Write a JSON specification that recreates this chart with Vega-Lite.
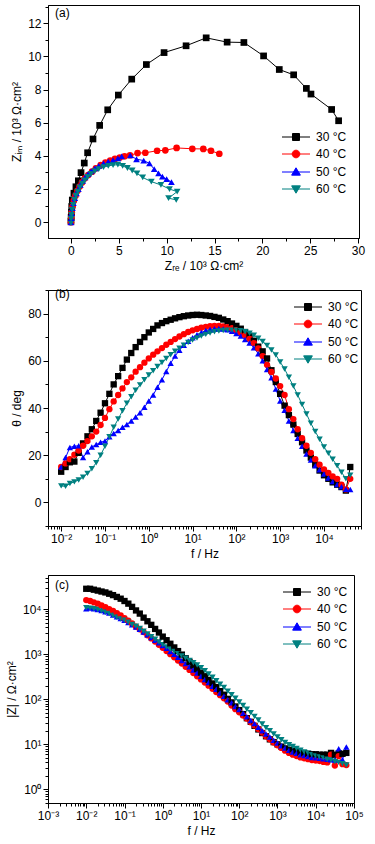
{
"$schema": "https://vega.github.io/schema/vega-lite/v6.json",
"padding": {"left": 4, "top": 0, "right": 5, "bottom": 2},
"spacing": 11,
"config": {
 "font": "Liberation Sans",
 "view": {"stroke": "black", "strokeWidth": 1},
 "axis": {"grid": false, "domainColor": "black", "tickColor": "black", "labelColor": "black", "titleColor": "black", "labelFontSize": 12, "titleFontSize": 12, "titleFontWeight": "normal", "labelFont": "Liberation Sans", "titleFont": "Liberation Sans", "labelOverlap": false, "labelFlush": false, "tickWidth": 1, "domainWidth": 1},
 "legend": {"title": null, "orient": "none", "padding": 0, "labelFontSize": 12, "labelFont": "Liberation Sans", "labelColor": "black", "symbolSize": 49, "labelOffset": 14, "rowPadding": 5},
 "title": {"fontSize": 12, "fontWeight": "normal", "font": "Liberation Sans", "color": "black", "anchor": "start", "frame": "group"}
},
"resolve": {"legend": {"color": "independent"}},
"datasets": {
 "nyq": [
  {"T":"30 °C","n":1,"re":0.0,"im":0.05},{"T":"30 °C","n":2,"re":0.02,"im":0.3},{"T":"30 °C","n":3,"re":0.05,"im":0.6},{"T":"30 °C","n":4,"re":0.08,"im":0.95},{"T":"30 °C","n":5,"re":0.14,"im":1.34},{"T":"30 °C","n":6,"re":0.31,"im":1.75},{"T":"30 °C","n":7,"re":0.52,"im":2.14},{"T":"30 °C","n":8,"re":0.77,"im":2.5},{"T":"30 °C","n":9,"re":1.05,"im":2.99},{"T":"30 °C","n":10,"re":1.39,"im":3.57},{"T":"30 °C","n":11,"re":1.74,"im":4.19},{"T":"30 °C","n":12,"re":2.3,"im":5.02},{"T":"30 °C","n":13,"re":3.0,"im":5.84},{"T":"30 °C","n":14,"re":3.84,"im":6.78},{"T":"30 °C","n":15,"re":4.95,"im":7.67},{"T":"30 °C","n":16,"re":6.35,"im":8.63},{"T":"30 °C","n":17,"re":7.88,"im":9.51},{"T":"30 °C","n":18,"re":9.73,"im":10.23},{"T":"30 °C","n":19,"re":12.03,"im":10.64},{"T":"30 °C","n":20,"re":14.13,"im":11.12},{"T":"30 °C","n":21,"re":16.32,"im":10.86},{"T":"30 °C","n":22,"re":18.07,"im":10.84},{"T":"30 °C","n":23,"re":20.13,"im":10.03},{"T":"30 °C","n":24,"re":21.77,"im":9.21},{"T":"30 °C","n":25,"re":23.27,"im":8.89},{"T":"30 °C","n":26,"re":24.6,"im":8.07},{"T":"30 °C","n":27,"re":25.08,"im":7.73},{"T":"30 °C","n":28,"re":27.24,"im":6.8},{"T":"30 °C","n":29,"re":27.97,"im":6.12},
  {"T":"40 °C","n":1,"re":0.0,"im":0.0},{"T":"40 °C","n":2,"re":0.03,"im":0.3},{"T":"40 °C","n":3,"re":0.08,"im":0.6},{"T":"40 °C","n":4,"re":0.17,"im":0.95},{"T":"40 °C","n":5,"re":0.3,"im":1.3},{"T":"40 °C","n":6,"re":0.47,"im":1.6},{"T":"40 °C","n":7,"re":0.68,"im":1.9},{"T":"40 °C","n":8,"re":0.9,"im":2.15},{"T":"40 °C","n":9,"re":1.15,"im":2.4},{"T":"40 °C","n":10,"re":1.45,"im":2.65},{"T":"40 °C","n":11,"re":1.8,"im":2.85},{"T":"40 °C","n":12,"re":2.2,"im":3.05},{"T":"40 °C","n":13,"re":2.6,"im":3.25},{"T":"40 °C","n":14,"re":3.1,"im":3.45},{"T":"40 °C","n":15,"re":3.6,"im":3.6},{"T":"40 °C","n":16,"re":4.1,"im":3.72},{"T":"40 °C","n":17,"re":4.6,"im":3.82},{"T":"40 °C","n":18,"re":5.1,"im":3.9},{"T":"40 °C","n":19,"re":5.6,"im":3.98},{"T":"40 °C","n":20,"re":6.17,"im":4.04},{"T":"40 °C","n":21,"re":6.96,"im":4.17},{"T":"40 °C","n":22,"re":7.77,"im":4.19},{"T":"40 °C","n":23,"re":9.0,"im":4.31},{"T":"40 °C","n":24,"re":9.86,"im":4.34},{"T":"40 °C","n":25,"re":11.04,"im":4.48},{"T":"40 °C","n":26,"re":12.68,"im":4.43},{"T":"40 °C","n":27,"re":13.83,"im":4.42},{"T":"40 °C","n":28,"re":14.63,"im":4.31},{"T":"40 °C","n":29,"re":15.5,"im":4.13},
  {"T":"50 °C","n":1,"re":0.0,"im":0.0},{"T":"50 °C","n":2,"re":0.03,"im":0.25},{"T":"50 °C","n":3,"re":0.07,"im":0.55},{"T":"50 °C","n":4,"re":0.15,"im":0.85},{"T":"50 °C","n":5,"re":0.25,"im":1.15},{"T":"50 °C","n":6,"re":0.4,"im":1.45},{"T":"50 °C","n":7,"re":0.57,"im":1.75},{"T":"50 °C","n":8,"re":0.77,"im":2.0},{"T":"50 °C","n":9,"re":0.98,"im":2.25},{"T":"50 °C","n":10,"re":1.22,"im":2.5},{"T":"50 °C","n":11,"re":1.48,"im":2.7},{"T":"50 °C","n":12,"re":1.78,"im":2.9},{"T":"50 °C","n":13,"re":2.1,"im":3.07},{"T":"50 °C","n":14,"re":2.5,"im":3.25},{"T":"50 °C","n":15,"re":2.9,"im":3.4},{"T":"50 °C","n":16,"re":3.4,"im":3.55},{"T":"50 °C","n":17,"re":3.9,"im":3.65},{"T":"50 °C","n":18,"re":4.4,"im":3.75},{"T":"50 °C","n":19,"re":4.9,"im":3.85},{"T":"50 °C","n":20,"re":5.3,"im":3.97},{"T":"50 °C","n":21,"re":6.2,"im":4.03},{"T":"50 °C","n":22,"re":6.85,"im":3.8},{"T":"50 °C","n":23,"re":7.6,"im":3.72},{"T":"50 °C","n":24,"re":8.2,"im":3.55},{"T":"50 °C","n":25,"re":8.7,"im":3.2},{"T":"50 °C","n":26,"re":9.15,"im":2.95},{"T":"50 °C","n":27,"re":9.55,"im":2.75},{"T":"50 °C","n":28,"re":10.0,"im":2.6},{"T":"50 °C","n":29,"re":10.5,"im":2.42},
  {"T":"60 °C","n":1,"re":0.0,"im":-0.05},{"T":"60 °C","n":2,"re":0.02,"im":0.2},{"T":"60 °C","n":3,"re":0.06,"im":0.45},{"T":"60 °C","n":4,"re":0.13,"im":0.75},{"T":"60 °C","n":5,"re":0.23,"im":1.05},{"T":"60 °C","n":6,"re":0.37,"im":1.35},{"T":"60 °C","n":7,"re":0.52,"im":1.6},{"T":"60 °C","n":8,"re":0.72,"im":1.85},{"T":"60 °C","n":9,"re":0.93,"im":2.1},{"T":"60 °C","n":10,"re":1.18,"im":2.33},{"T":"60 °C","n":11,"re":1.45,"im":2.53},{"T":"60 °C","n":12,"re":1.75,"im":2.73},{"T":"60 °C","n":13,"re":2.1,"im":2.92},{"T":"60 °C","n":14,"re":2.5,"im":3.08},{"T":"60 °C","n":15,"re":2.9,"im":3.2},{"T":"60 °C","n":16,"re":3.4,"im":3.32},{"T":"60 °C","n":17,"re":3.9,"im":3.4},{"T":"60 °C","n":18,"re":4.4,"im":3.45},{"T":"60 °C","n":19,"re":4.9,"im":3.47},{"T":"60 °C","n":20,"re":5.4,"im":3.4},{"T":"60 °C","n":21,"re":5.9,"im":3.27},{"T":"60 °C","n":22,"re":6.4,"im":3.12},{"T":"60 °C","n":23,"re":6.9,"im":2.95},{"T":"60 °C","n":24,"re":7.5,"im":2.7},{"T":"60 °C","n":25,"re":8.4,"im":2.45},{"T":"60 °C","n":26,"re":9.4,"im":2.25},{"T":"60 °C","n":27,"re":10.3,"im":2.0},{"T":"60 °C","n":28,"re":11.1,"im":1.85},{"T":"60 °C","n":29,"re":10.2,"im":1.45},{"T":"60 °C","n":30,"re":11.0,"im":1.35}
 ],
 "phase": [
  {"f":0.01,"30 °C":13,"40 °C":15,"50 °C":15,"60 °C":7},
  {"f":0.0126,"30 °C":15,"40 °C":16.5,"50 °C":19,"60 °C":6.8},
  {"f":0.0158,"30 °C":17,"40 °C":18.3,"50 °C":23.3,"60 °C":8},
  {"f":0.02,"30 °C":17.3,"40 °C":20.2,"50 °C":23.8,"60 °C":8.7},
  {"f":0.0251,"30 °C":21,"40 °C":22,"50 °C":24,"60 °C":9.5},
  {"f":0.0316,"30 °C":25,"40 °C":24,"50 °C":19,"60 °C":10.7},
  {"f":0.0398,"30 °C":28,"40 °C":26,"50 °C":21.5,"60 °C":12.3},
  {"f":0.0501,"30 °C":31,"40 °C":28,"50 °C":23.5,"60 °C":14.3},
  {"f":0.0631,"30 °C":34.5,"40 °C":30,"50 °C":24.5,"60 °C":16.8},
  {"f":0.0794,"30 °C":38,"40 °C":32.8,"50 °C":25.5,"60 °C":20},
  {"f":0.1,"30 °C":42,"40 °C":35.8,"50 °C":26,"60 °C":23.8},
  {"f":0.126,"30 °C":46,"40 °C":39.5,"50 °C":27.8,"60 °C":27.8},
  {"f":0.158,"30 °C":50,"40 °C":42.8,"50 °C":29.2,"60 °C":31.8},
  {"f":0.2,"30 °C":53.5,"40 °C":45.5,"50 °C":30.5,"60 °C":35.3},
  {"f":0.251,"30 °C":57,"40 °C":48.3,"50 °C":31.8,"60 °C":38.8},
  {"f":0.316,"30 °C":60.5,"40 °C":51,"50 °C":33,"60 °C":42},
  {"f":0.398,"30 °C":63.3,"40 °C":53,"50 °C":34.5,"60 °C":44.8},
  {"f":0.501,"30 °C":65.8,"40 °C":55.4,"50 °C":36.2,"60 °C":47.5},
  {"f":0.631,"30 °C":68,"40 °C":57.3,"50 °C":38,"60 °C":49.8},
  {"f":0.794,"30 °C":70,"40 °C":59.2,"50 °C":40.3,"60 °C":52},
  {"f":1,"30 °C":72,"40 °C":61,"50 °C":43,"60 °C":54},
  {"f":1.26,"30 °C":73.5,"40 °C":62.6,"50 °C":45.5,"60 °C":55.8},
  {"f":1.58,"30 °C":75,"40 °C":64,"50 °C":48.8,"60 °C":57.6},
  {"f":2,"30 °C":76,"40 °C":65.4,"50 °C":52,"60 °C":59.3},
  {"f":2.51,"30 °C":76.8,"40 °C":66.8,"50 °C":55.5,"60 °C":61},
  {"f":3.16,"30 °C":77.4,"40 °C":68,"50 °C":59,"60 °C":62.6},
  {"f":3.98,"30 °C":78,"40 °C":69.2,"50 °C":62,"60 °C":64},
  {"f":5.01,"30 °C":78.5,"40 °C":70.3,"50 °C":64.5,"60 °C":65.3},
  {"f":6.31,"30 °C":78.9,"40 °C":71.3,"50 °C":66.6,"60 °C":66.6},
  {"f":7.94,"30 °C":79.2,"40 °C":72.2,"50 °C":68.3,"60 °C":67.8},
  {"f":10,"30 °C":79.4,"40 °C":72.9,"50 °C":69.8,"60 °C":68.8},
  {"f":12.6,"30 °C":79.5,"40 °C":73.5,"50 °C":71,"60 °C":69.7},
  {"f":15.8,"30 °C":79.4,"40 °C":74,"50 °C":72,"60 °C":70.5},
  {"f":20,"30 °C":79.2,"40 °C":74.4,"50 °C":72.8,"60 °C":71.2},
  {"f":25.1,"30 °C":79,"40 °C":74.7,"50 °C":73.3,"60 °C":71.8},
  {"f":31.6,"30 °C":78.6,"40 °C":74.8,"50 °C":73.6,"60 °C":72.3},
  {"f":39.8,"30 °C":78.2,"40 °C":74.8,"50 °C":73.7,"60 °C":72.6},
  {"f":50.1,"30 °C":77.5,"40 °C":74.6,"50 °C":73.5,"60 °C":72.8},
  {"f":63.1,"30 °C":76.8,"40 °C":74.3,"50 °C":73.1,"60 °C":73},
  {"f":79.4,"30 °C":75.8,"40 °C":73.8,"50 °C":72.5,"60 °C":73},
  {"f":100,"30 °C":74.8,"40 °C":73,"50 °C":71.6,"60 °C":72.9},
  {"f":126,"30 °C":73.6,"40 °C":72,"50 °C":70.5,"60 °C":72.7},
  {"f":158,"30 °C":72.2,"40 °C":70.8,"50 °C":69,"60 °C":72.3},
  {"f":200,"30 °C":70.5,"40 °C":69.3,"50 °C":67.5,"60 °C":71.7},
  {"f":251,"30 °C":68.5,"40 °C":67.5,"50 °C":65.5,"60 °C":70.8},
  {"f":316,"30 °C":66,"40 °C":65.2,"50 °C":63,"60 °C":69.6},
  {"f":398,"30 °C":64,"40 °C":62,"50 °C":60,"60 °C":68.2},
  {"f":501,"30 °C":61,"40 °C":58.3,"50 °C":56.3,"60 °C":66.5},
  {"f":631,"30 °C":56,"40 °C":55.3,"50 °C":52.8,"60 °C":64.6},
  {"f":794,"30 °C":51,"40 °C":52.5,"50 °C":48,"60 °C":62.5},
  {"f":1000,"30 °C":46,"40 °C":49.3,"50 °C":43,"60 °C":59.5},
  {"f":1260,"30 °C":41,"40 °C":45.5,"50 °C":39,"60 °C":56.5},
  {"f":1580,"30 °C":37,"40 °C":39.5,"50 °C":34.5,"60 °C":53},
  {"f":2000,"30 °C":33,"40 °C":35.3,"50 °C":30.5,"60 °C":49.3},
  {"f":2510,"30 °C":29,"40 °C":31,"50 °C":27.2,"60 °C":45.5},
  {"f":3160,"30 °C":25.5,"40 °C":27.2,"50 °C":23.8,"60 °C":41.5},
  {"f":3980,"30 °C":22,"40 °C":24,"50 °C":20.5,"60 °C":37.5},
  {"f":5010,"30 °C":19,"40 °C":21,"50 °C":18,"60 °C":33.5},
  {"f":6310,"30 °C":16,"40 °C":18.3,"50 °C":15.5,"60 °C":30},
  {"f":7940,"30 °C":13.5,"40 °C":16,"50 °C":13.8,"60 °C":26.8},
  {"f":10000,"30 °C":11.5,"40 °C":14,"50 °C":12,"60 °C":23.5},
  {"f":12600,"30 °C":10,"40 °C":12.5,"50 °C":10.3,"60 °C":20.8},
  {"f":15800,"30 °C":8.5,"40 °C":11,"50 °C":8.8,"60 °C":18.3},
  {"f":20000,"30 °C":7.5,"40 °C":10,"50 °C":7.6,"60 °C":15.5},
  {"f":25100,"30 °C":6.5,"40 °C":7.5,"50 °C":6.6,"60 °C":12.8},
  {"f":31600,"30 °C":5,"40 °C":5.5,"50 °C":5.6,"60 °C":10},
  {"f":39800,"30 °C":15,"40 °C":10,"50 °C":5.5,"60 °C":11.5}
 ],
 "mod": [
  {"f":0.01,"30 °C":28200,"40 °C":15800,"50 °C":10200,"60 °C":10700},
  {"f":0.0126,"30 °C":28200,"40 °C":15100,"50 °C":10500,"60 °C":10500},
  {"f":0.0158,"30 °C":26900,"40 °C":14100,"50 °C":10200,"60 °C":10200},
  {"f":0.02,"30 °C":25700,"40 °C":13200,"50 °C":9770,"60 °C":9770},
  {"f":0.0251,"30 °C":24500,"40 °C":12000,"50 °C":9330,"60 °C":9120},
  {"f":0.0316,"30 °C":23400,"40 °C":11000,"50 °C":8710,"60 °C":8510},
  {"f":0.0398,"30 °C":21900,"40 °C":10000,"50 °C":8130,"60 °C":7940},
  {"f":0.0501,"30 °C":20400,"40 °C":9120,"50 °C":7410,"60 °C":7240},
  {"f":0.0631,"30 °C":18600,"40 °C":8130,"50 °C":6760,"60 °C":6610},
  {"f":0.0794,"30 °C":17000,"40 °C":7240,"50 °C":6170,"60 °C":6030},
  {"f":0.1,"30 °C":15100,"40 °C":6310,"50 °C":5620,"60 °C":5620},
  {"f":0.126,"30 °C":13200,"40 °C":5500,"50 °C":5010,"60 °C":5130},
  {"f":0.158,"30 °C":11200,"40 °C":4790,"50 °C":4470,"60 °C":4570},
  {"f":0.2,"30 °C":9330,"40 °C":4070,"50 °C":3980,"60 °C":4170},
  {"f":0.251,"30 °C":7940,"40 °C":3550,"50 °C":3550,"60 °C":3720},
  {"f":0.316,"30 °C":6460,"40 °C":3090,"50 °C":3090,"60 °C":3240},
  {"f":0.398,"30 °C":5370,"40 °C":2630,"50 °C":2690,"60 °C":2820},
  {"f":0.501,"30 °C":4470,"40 °C":2240,"50 °C":2340,"60 °C":2450},
  {"f":0.631,"30 °C":3630,"40 °C":1910,"50 °C":2040,"60 °C":2140},
  {"f":0.794,"30 °C":3020,"40 °C":1620,"50 °C":1780,"60 °C":1860},
  {"f":1,"30 °C":2450,"40 °C":1380,"50 °C":1550,"60 °C":1620},
  {"f":1.26,"30 °C":2040,"40 °C":1170,"50 °C":1350,"60 °C":1450},
  {"f":1.58,"30 °C":1700,"40 °C":1000,"50 °C":1150,"60 °C":1290},
  {"f":2,"30 °C":1410,"40 °C":851,"50 °C":1000,"60 °C":1150},
  {"f":2.51,"30 °C":1170,"40 °C":724,"50 °C":851,"60 °C":1020},
  {"f":3.16,"30 °C":977,"40 °C":617,"50 °C":724,"60 °C":912},
  {"f":3.98,"30 °C":813,"40 °C":525,"50 °C":617,"60 °C":813},
  {"f":5.01,"30 °C":676,"40 °C":447,"50 °C":525,"60 °C":724},
  {"f":6.31,"30 °C":562,"40 °C":380,"50 °C":447,"60 °C":646},
  {"f":7.94,"30 °C":468,"40 °C":324,"50 °C":380,"60 °C":575},
  {"f":10,"30 °C":389,"40 °C":275,"50 °C":324,"60 °C":501},
  {"f":12.6,"30 °C":324,"40 °C":234,"50 °C":275,"60 °C":427},
  {"f":15.8,"30 °C":269,"40 °C":200,"50 °C":234,"60 °C":363},
  {"f":20,"30 °C":224,"40 °C":170,"50 °C":195,"60 °C":309},
  {"f":25.1,"30 °C":186,"40 °C":145,"50 °C":166,"60 °C":257},
  {"f":31.6,"30 °C":151,"40 °C":123,"50 °C":138,"60 °C":214},
  {"f":39.8,"30 °C":126,"40 °C":105,"50 °C":117,"60 °C":182},
  {"f":50.1,"30 °C":102,"40 °C":89.1,"50 °C":97.7,"60 °C":151},
  {"f":63.1,"30 °C":85.1,"40 °C":72.4,"50 °C":83.2,"60 °C":126},
  {"f":79.4,"30 °C":69.2,"40 °C":60.3,"50 °C":69.2,"60 °C":105},
  {"f":100,"30 °C":57.5,"40 °C":51.3,"50 °C":58.9,"60 °C":87.1},
  {"f":126,"30 °C":46.8,"40 °C":43.7,"50 °C":49.0,"60 °C":72.4},
  {"f":158,"30 °C":38.0,"40 °C":37.2,"50 °C":40.7,"60 °C":60.3},
  {"f":200,"30 °C":31.6,"40 °C":30.9,"50 °C":33.9,"60 °C":50.1},
  {"f":251,"30 °C":25.7,"40 °C":26.3,"50 °C":28.8,"60 °C":41.7},
  {"f":316,"30 °C":21.4,"40 °C":21.9,"50 °C":24.0,"60 °C":34.7},
  {"f":398,"30 °C":17.8,"40 °C":18.2,"50 °C":20.0,"60 °C":28.2},
  {"f":501,"30 °C":15.1,"40 °C":15.1,"50 °C":17.0,"60 °C":23.4},
  {"f":631,"30 °C":12.9,"40 °C":12.9,"50 °C":14.5,"60 °C":20.0},
  {"f":794,"30 °C":11.2,"40 °C":11.0,"50 °C":12.3,"60 °C":17.0},
  {"f":1000,"30 °C":10.0,"40 °C":9.55,"50 °C":10.7,"60 °C":14.5},
  {"f":1260,"30 °C":8.91,"40 °C":8.32,"50 °C":9.33,"60 °C":12.6},
  {"f":1580,"30 °C":8.13,"40 °C":7.24,"50 °C":8.32,"60 °C":11.0},
  {"f":2000,"30 °C":7.59,"40 °C":6.46,"50 °C":7.41,"60 °C":9.77},
  {"f":2510,"30 °C":7.08,"40 °C":5.89,"50 °C":6.76,"60 °C":8.91},
  {"f":3160,"30 °C":6.76,"40 °C":5.50,"50 °C":6.31,"60 °C":8.13},
  {"f":3980,"30 °C":6.46,"40 °C":5.13,"50 °C":5.89,"60 °C":7.41},
  {"f":5010,"30 °C":6.31,"40 °C":4.90,"50 °C":5.62,"60 °C":6.76},
  {"f":6310,"30 °C":6.17,"40 °C":4.68,"50 °C":5.37,"60 °C":6.31},
  {"f":7940,"30 °C":6.03,"40 °C":4.47,"50 °C":5.13,"60 °C":5.89},
  {"f":10000,"30 °C":6.03,"40 °C":4.37,"50 °C":5.01,"60 °C":5.50},
  {"f":12600,"30 °C":5.89,"40 °C":4.27,"50 °C":4.90,"60 °C":5.25},
  {"f":15800,"30 °C":5.89,"40 °C":4.07,"50 °C":4.79,"60 °C":5.01},
  {"f":20000,"30 °C":5.89,"40 °C":3.98,"50 °C":4.68,"60 °C":4.68},
  {"f":25100,"30 °C":6.46,"40 °C":5.89,"50 °C":4.57,"60 °C":4.47},
  {"f":31600,"30 °C":5.89,"40 °C":3.39,"50 °C":4.47,"60 °C":4.17},
  {"f":39800,"30 °C":6.31,"40 °C":5.50,"50 °C":7.94,"60 °C":3.98},
  {"f":50100,"30 °C":6.17,"40 °C":3.63,"50 °C":4.57,"60 °C":3.72},
  {"f":63100,"30 °C":6.46,"40 °C":3.47,"50 °C":8.71,"60 °C":3.47}
 ]
},
"vconcat": [
 {
  "width": 311, "height": 233,
  "data": {"name": "nyq"},
  "title": {"text": "(a)", "offset": -19, "dx": 7},
  "encoding": {
   "x": {"field": "re", "type": "quantitative", "scale": {"domain": [-2.4, 30.1], "nice": false, "zero": false},
     "axis": {"title": "Zᵣₑ / 10³ Ω·cm²", "values": [0,2.5,5,7.5,10,12.5,15,17.5,20,22.5,25,27.5,30], "labelExpr": "datum.value % 5 == 0 ? datum.label : ''", "tickSize": {"condition": {"test": "datum.value % 5 == 0", "value": 5}, "value": 3}}},
   "y": {"field": "im", "type": "quantitative", "scale": {"domain": [-0.95, 13.1], "nice": false, "zero": false},
     "axis": {"title": "Zᵢₘ / 10³ Ω·cm²", "values": [0,1,2,3,4,5,6,7,8,9,10,11,12,13], "labelExpr": "datum.value % 2 == 0 ? datum.label : ''", "tickSize": {"condition": {"test": "datum.value % 2 == 0", "value": 5}, "value": 3}}},
   "color": {"field": "T", "type": "nominal", "scale": {"domain": ["30 °C","40 °C","50 °C","60 °C"], "range": ["#000000","#ff0000","#0000ff","#008080"]},
     "legend": {"legendX": 242, "legendY": 126, "encode": {"symbols": {"update": {
       "shape": {"signal": "datum.value=='30 °C' ? 'M-4,0H4M-1,-1H1V1H-1Z' : datum.value=='40 °C' ? 'M-4,0H4M-1.1,0A1.1,1.1,0,1,0,1.1,0A1.1,1.1,0,1,0,-1.1,0Z' : datum.value=='50 °C' ? 'M-4,0H4M0,-1.2L1.25,0.9H-1.25Z' : 'M-4,0H4M0,1.2L1.25,-0.9H-1.25Z'"},
       "fill": {"signal": "datum.value=='30 °C' ? '#000000' : datum.value=='40 °C' ? '#ff0000' : datum.value=='50 °C' ? '#0000ff' : '#008080'"},
       "stroke": {"signal": "datum.value=='30 °C' ? '#000000' : datum.value=='40 °C' ? '#ff0000' : datum.value=='50 °C' ? '#0000ff' : '#008080'"},
       "strokeWidth": {"value": 1}, "size": {"value": 49}, "opacity": {"value": 1}}}}}},
   "order": {"field": "n", "type": "quantitative"}
  },
  "layer": [
   {"mark": {"type": "line", "strokeWidth": 1}},
   {"mark": {"type": "point", "filled": true, "size": 45, "opacity": 1},
    "encoding": {"shape": {"field": "T", "type": "nominal", "scale": {"domain": ["30 °C","40 °C","50 °C","60 °C"], "range": ["square","circle","triangle-up","triangle-down"]}, "legend": null}}}
  ]
 },
 {
  "width": 313, "height": 236,
  "data": {"name": "phase"},
  "transform": [{"fold": ["30 °C","40 °C","50 °C","60 °C"], "as": ["T","theta"]}],
  "title": {"text": "(b)", "offset": -17, "dx": 7},
  "encoding": {
   "x": {"field": "f", "type": "quantitative", "scale": {"type": "log", "domain": [0.005, 70000], "nice": false},
     "axis": {"title": "f / Hz", "values": [0.005,0.006,0.007,0.008,0.009,0.01,0.02,0.03,0.04,0.05,0.06,0.07,0.08,0.09,0.1,0.2,0.3,0.4,0.5,0.6,0.7,0.8,0.9,1,2,3,4,5,6,7,8,9,10,20,30,40,50,60,70,80,90,100,200,300,400,500,600,700,800,900,1000,2000,3000,4000,5000,6000,7000,8000,9000,10000,20000,30000,40000,50000,60000,70000],
       "labelExpr": "abs(log(datum.value)/LN10 - round(log(datum.value)/LN10)) < 0.001 ? ['10⁻³','10⁻²','10⁻¹','10⁰','10¹','10²','10³','10⁴','10⁵'][round(log(datum.value)/LN10)+3] : ''",
       "tickSize": {"condition": {"test": "abs(log(datum.value)/LN10 - round(log(datum.value)/LN10)) < 0.001", "value": 5}, "value": 3}}},
   "y": {"field": "theta", "type": "quantitative", "scale": {"domain": [-10, 90], "nice": false, "zero": false},
     "axis": {"title": "θ / deg", "values": [-10,0,10,20,30,40,50,60,70,80,90], "labelExpr": "datum.value % 20 == 0 ? datum.label : ''", "tickSize": {"condition": {"test": "datum.value % 20 == 0", "value": 5}, "value": 3}}},
   "color": {"field": "T", "type": "nominal", "scale": {"domain": ["30 °C","40 °C","50 °C","60 °C"], "range": ["#000000","#ff0000","#0000ff","#008080"]},
     "legend": {"legendX": 254, "legendY": 11, "encode": {"symbols": {"update": {
       "shape": {"signal": "datum.value=='30 °C' ? 'M-4,0H4M-1,-1H1V1H-1Z' : datum.value=='40 °C' ? 'M-4,0H4M-1.1,0A1.1,1.1,0,1,0,1.1,0A1.1,1.1,0,1,0,-1.1,0Z' : datum.value=='50 °C' ? 'M-4,0H4M0,-1.2L1.25,0.9H-1.25Z' : 'M-4,0H4M0,1.2L1.25,-0.9H-1.25Z'"},
       "fill": {"signal": "datum.value=='30 °C' ? '#000000' : datum.value=='40 °C' ? '#ff0000' : datum.value=='50 °C' ? '#0000ff' : '#008080'"},
       "stroke": {"signal": "datum.value=='30 °C' ? '#000000' : datum.value=='40 °C' ? '#ff0000' : datum.value=='50 °C' ? '#0000ff' : '#008080'"},
       "strokeWidth": {"value": 1}, "size": {"value": 49}, "opacity": {"value": 1}}}}}}
  },
  "layer": [
   {"mark": {"type": "line", "strokeWidth": 1}},
   {"mark": {"type": "point", "filled": true, "size": 40, "opacity": 1},
    "encoding": {"shape": {"field": "T", "type": "nominal", "scale": {"domain": ["30 °C","40 °C","50 °C","60 °C"], "range": ["square","circle","triangle-up","triangle-down"]}, "legend": null}}}
  ]
 },
 {
  "width": 306, "height": 228,
  "data": {"name": "mod"},
  "transform": [{"fold": ["30 °C","40 °C","50 °C","60 °C"], "as": ["T","z"]}],
  "title": {"text": "(c)", "offset": -20, "dx": 7},
  "encoding": {
   "x": {"field": "f", "type": "quantitative", "scale": {"type": "log", "domain": [0.001, 100000], "nice": false},
     "axis": {"title": "f / Hz", "values": [0.001,0.002,0.003,0.004,0.005,0.006,0.007,0.008,0.009,0.01,0.02,0.03,0.04,0.05,0.06,0.07,0.08,0.09,0.1,0.2,0.3,0.4,0.5,0.6,0.7,0.8,0.9,1,2,3,4,5,6,7,8,9,10,20,30,40,50,60,70,80,90,100,200,300,400,500,600,700,800,900,1000,2000,3000,4000,5000,6000,7000,8000,9000,10000,20000,30000,40000,50000,60000,70000,80000,90000,100000],
       "labelExpr": "abs(log(datum.value)/LN10 - round(log(datum.value)/LN10)) < 0.001 ? ['10⁻³','10⁻²','10⁻¹','10⁰','10¹','10²','10³','10⁴','10⁵'][round(log(datum.value)/LN10)+3] : ''",
       "tickSize": {"condition": {"test": "abs(log(datum.value)/LN10 - round(log(datum.value)/LN10)) < 0.001", "value": 5}, "value": 3}}},
   "y": {"field": "z", "type": "quantitative", "scale": {"type": "log", "domain": [0.5, 57000], "nice": false},
     "axis": {"title": "|Z| / Ω·cm²", "values": [0.5,0.6,0.7,0.8,0.9,1,2,3,4,5,6,7,8,9,10,20,30,40,50,60,70,80,90,100,200,300,400,500,600,700,800,900,1000,2000,3000,4000,5000,6000,7000,8000,9000,10000,20000,30000,40000,50000],
       "labelExpr": "abs(log(datum.value)/LN10 - round(log(datum.value)/LN10)) < 0.001 ? ['10⁻³','10⁻²','10⁻¹','10⁰','10¹','10²','10³','10⁴','10⁵'][round(log(datum.value)/LN10)+3] : ''",
       "tickSize": {"condition": {"test": "abs(log(datum.value)/LN10 - round(log(datum.value)/LN10)) < 0.001", "value": 5}, "value": 3}}},
   "color": {"field": "T", "type": "nominal", "scale": {"domain": ["30 °C","40 °C","50 °C","60 °C"], "range": ["#000000","#ff0000","#0000ff","#008080"]},
     "legend": {"legendX": 243, "legendY": 11, "encode": {"symbols": {"update": {
       "shape": {"signal": "datum.value=='30 °C' ? 'M-4,0H4M-1,-1H1V1H-1Z' : datum.value=='40 °C' ? 'M-4,0H4M-1.1,0A1.1,1.1,0,1,0,1.1,0A1.1,1.1,0,1,0,-1.1,0Z' : datum.value=='50 °C' ? 'M-4,0H4M0,-1.2L1.25,0.9H-1.25Z' : 'M-4,0H4M0,1.2L1.25,-0.9H-1.25Z'"},
       "fill": {"signal": "datum.value=='30 °C' ? '#000000' : datum.value=='40 °C' ? '#ff0000' : datum.value=='50 °C' ? '#0000ff' : '#008080'"},
       "stroke": {"signal": "datum.value=='30 °C' ? '#000000' : datum.value=='40 °C' ? '#ff0000' : datum.value=='50 °C' ? '#0000ff' : '#008080'"},
       "strokeWidth": {"value": 1}, "size": {"value": 49}, "opacity": {"value": 1}}}}}}
  },
  "layer": [
   {"mark": {"type": "line", "strokeWidth": 1}},
   {"mark": {"type": "point", "filled": true, "size": 40, "opacity": 1},
    "encoding": {"shape": {"field": "T", "type": "nominal", "scale": {"domain": ["30 °C","40 °C","50 °C","60 °C"], "range": ["square","circle","triangle-up","triangle-down"]}, "legend": null}}}
  ]
 }
]
}
